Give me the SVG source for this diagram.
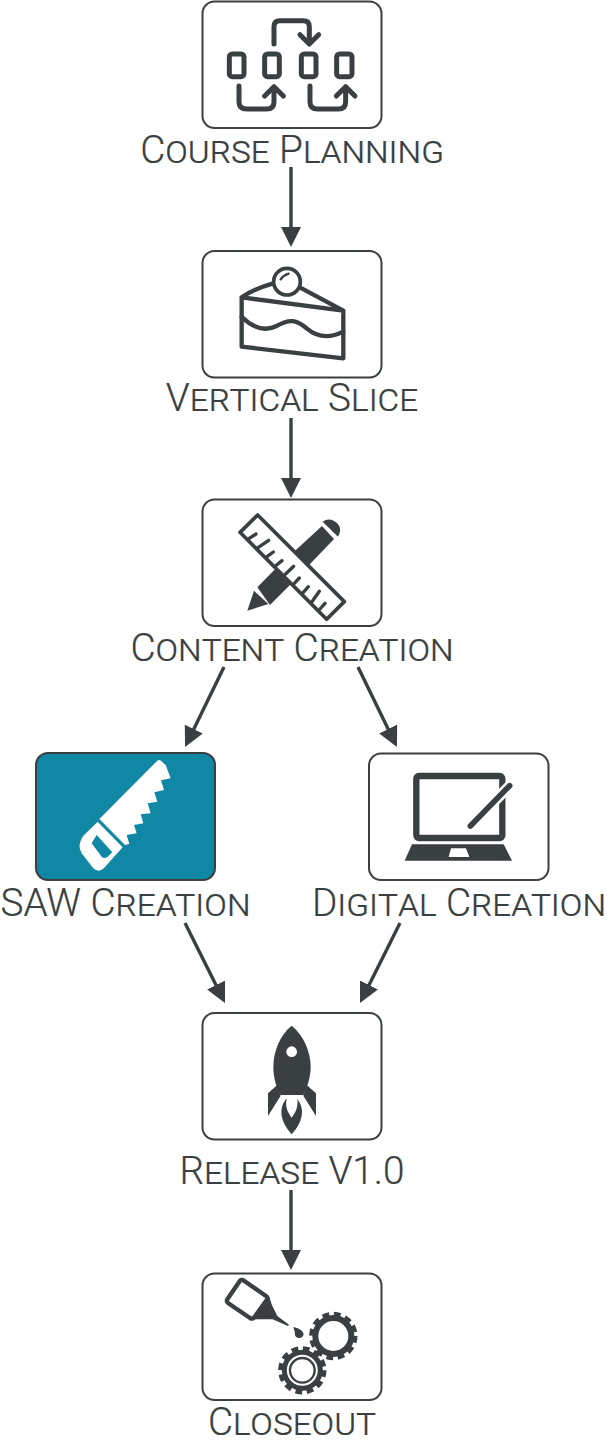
<svg xmlns="http://www.w3.org/2000/svg" width="607" height="1446" viewBox="0 0 607 1446">
<style>
.box{fill:#fff;stroke:#3a3f42;stroke-width:2}
.box.on{fill:#0f87a5}
.lbl{font-family:Roboto,"Liberation Sans",sans-serif;font-weight:300;font-size:38.700px;font-variant:small-caps;fill:#3a3f42;stroke:#3a3f42;stroke-width:.2;text-anchor:middle}
.ic{fill:none;stroke:#3a3f42;stroke-linecap:round;stroke-linejoin:round}
.s{fill:#3a3f42;stroke:none}
.w{fill:#fff;stroke:none}
.c{stroke:#3a3f42;stroke-width:3.400;fill:none;marker-end:url(#a)}
</style>
<defs>
<marker id="a" markerUnits="userSpaceOnUse" markerWidth="22" markerHeight="22" refX="16" refY="10" orient="auto"><path d="M0 0L20 10L0 20Z" fill="#3a3f42"/></marker>
</defs>
<rect width="607" height="1446" fill="#fff"/>
<g id="connectors">
<path class="c" d="M291 167V243"/>
<path class="c" d="M291 418V494"/>
<path class="c" d="M224 667L186.800 743.400"/>
<path class="c" d="M358 667L395.200 743.400"/>
<path class="c" d="M185 923L223.200 999.400"/>
<path class="c" d="M400 923L361.800 999.400"/>
<path class="c" d="M291 1190V1266"/>
</g>
<g id="course-planning">
<rect class="box" x="202.500" y="1.500" width="179" height="126.500" rx="12"/>
<g transform="translate(190 0) scale(.3333)">
<g class="ic" stroke-width="15">
<path d="M252 132V80Q252 62 270 62H340Q358 62 358 80V130M330 104L358 132L386 104"/>
<rect x="118" y="162" width="44" height="68" rx="9"/>
<rect x="224" y="162" width="44" height="68" rx="9"/>
<rect x="334" y="162" width="44" height="68" rx="9"/>
<rect x="440" y="162" width="46" height="68" rx="9"/>
<path d="M147 258V305Q147 327 170 327H230Q252 327 252 305V262M224 288L252 260L280 288"/>
<path d="M360 258V305Q360 327 383 327H445Q467 327 467 305V262M439 288L467 260L495 288"/>
</g></g>
<text class="lbl" x="292" y="162.500">Course Planning</text>
</g>
<g id="vertical-slice">
<rect class="box" x="202.500" y="251" width="179" height="126.500" rx="12"/>
<g transform="translate(190 240) scale(.3333)">
<g class="ic" stroke-width="13">
<path d="M155 172L460 212V355L155 320ZM155 172Q195 145 250 130M335 145L460 212"/>
<path d="M155 230C190 265 225 275 260 258C300 235 320 240 350 265C385 295 420 295 460 275"/>
<circle cx="291" cy="125" r="40" style="fill:#fff" stroke-width="11"/>
<path d="M272 118Q280 106 296 101" stroke-width="7"/>
</g></g>
<text class="lbl" x="292" y="411">Vertical Slice</text>
</g>
<g id="content-creation">
<rect class="box" x="202.500" y="499.500" width="179" height="126.500" rx="12"/>
<g transform="translate(190 490) scale(.3333)">
<path class="s" d="M396 108L432 147L300 285L255 238ZM255 238L300 285L240 345L202 292ZM192 302L235 342L172 362ZM398 95Q420 80 442 100Q458 118 444 140Z"/>
<path class="ic" style="fill:#fff" stroke-width="11" d="M203 75L150 127L410 388L463 335Z"/>
<path class="ic" stroke-width="10" d="M178 145L198 132M205 172L236 151M232 199L250 186M259 226L276 212M286 253L311 229M313 280L328 264M340 307L355 290M367 334L388 304M390 357L405 340"/>
</g>
<text class="lbl" x="292" y="661">Content Creation</text>
</g>
<g id="saw-creation">
<rect class="box on" x="36" y="753" width="179" height="127" rx="12"/>
<g transform="translate(0 745) scale(.3333)">
<path class="w" d="M298 222L472 47Q480 42 486 50L497 60L512 100L483 106L492 135L463 142L472 170L443 175L452 205L422 208L430 235L402 240L410 265L380 270L388 297L375 300Z"/>
<path class="w" fill-rule="evenodd" d="M293 230L368 307L320 360Q300 388 280 370L245 325Q230 300 250 272ZM290 270L275 295L305 335Q312 342 322 336L337 322Z"/>
</g>
<text class="lbl" x="125.500" y="915.500">SAW Creation</text>
</g>
<g id="digital-creation">
<rect class="box" x="369" y="753.500" width="179.500" height="126.500" rx="12"/>
<g transform="translate(357 745) scale(.3333)">
<rect class="ic" x="178" y="93" width="258" height="186" rx="8" stroke-width="19"/>
<path class="ic" style="stroke:#fff" stroke-width="32" d="M340 243L458 122"/>
<path class="ic" stroke-width="17" d="M340 243L458 122"/>
<path class="s" d="M165 298H440L465 347H143Z"/>
<path class="w" d="M282 310H327L337 336H275Z"/>
</g>
<text class="lbl" x="459" y="915.500">Digital Creation</text>
</g>
<g id="release">
<rect class="box" x="202.500" y="1013" width="179" height="126.500" rx="12"/>
<g transform="translate(190 1005) scale(.3333)">
<path class="s" d="M305 62C340 90 362 140 362 185C362 220 350 250 340 270H272C260 250 250 220 250 185C250 140 270 90 305 62Z"/>
<circle class="w" cx="305" cy="140" r="16"/>
<path class="s" d="M262 240L234 265V333L272 272ZM350 240L378 265V333L340 272Z"/>
<path class="s" d="M288 282C265 310 270 350 305 388C340 350 345 310 322 282Z"/>
<path class="w" d="M290 282H322C325 305 318 320 305 338C292 320 285 305 290 282Z"/>
</g>
<text class="lbl" x="292" y="1184">Release V1.0</text>
</g>
<g id="closeout">
<rect class="box" x="202.500" y="1273.500" width="179" height="126.500" rx="12"/>
<g transform="translate(190 1266) scale(.3333)">
<path class="ic" stroke-width="13" d="M150 44Q155 40 162 44L228 90Q235 95 230 102L192 155Q187 160 180 156L115 112Q108 107 112 100Z"/>
<path class="s" d="M238 92L246 118L262 150L297 176L294 180L248 160L192 160Z"/>
<path class="s" d="M310 183Q340 190 341 205Q338 218 325 216Q312 212 315 200Z"/>
<g class="ic" style="stroke-linecap:butt">
<circle cx="430" cy="210" r="54" stroke-width="18"/>
<circle cx="430" cy="210" r="65" stroke-width="15" stroke-dasharray="20 14"/>
<circle cx="337" cy="313" r="65" stroke-width="15" stroke-dasharray="20 14"/>
<circle cx="337" cy="313" r="54" stroke-width="15"/>
<circle cx="337" cy="313" r="37" stroke-width="7"/>
</g></g>
<text class="lbl" x="292" y="1435">Closeout</text>
</g>
</svg>
